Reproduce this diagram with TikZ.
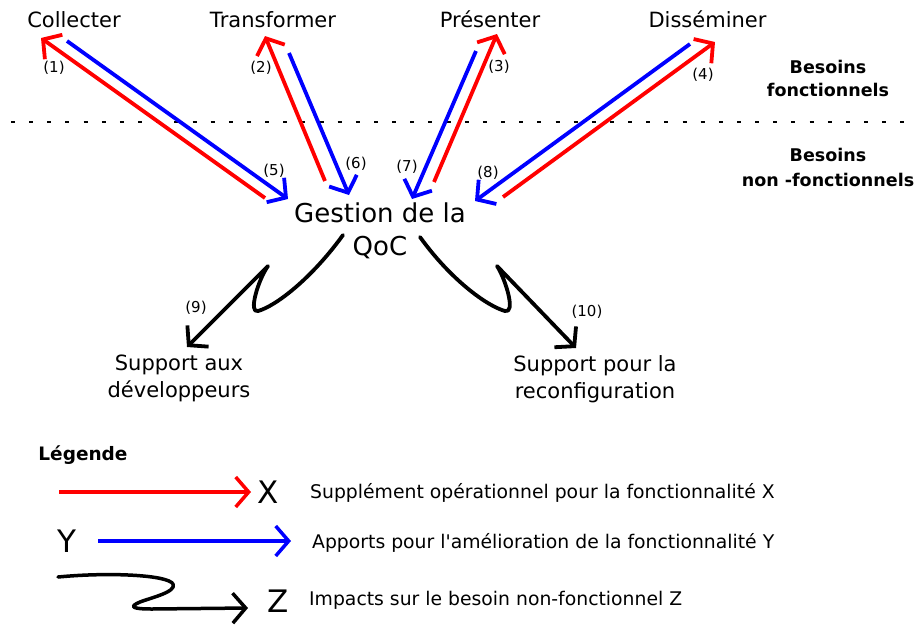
\documentclass[tikz,border=0pt]{standalone}
\usepackage{fontspec}
\setmainfont{DejaVu Sans}[Ligatures=TeXOff]
\usetikzlibrary{arrows.meta}
\begin{document}
\begin{tikzpicture}[x=1pt,y=-1pt,
  lbl/.style={font=\fontsize{21}{27}\selectfont, align=center, anchor=base, inner sep=0pt},
  num/.style={font=\fontsize{15}{18}\selectfont, inner sep=0pt},
  hdr/.style={font=\bfseries\fontsize{17.5}{23.4}\selectfont, align=center, anchor=base, inner sep=0pt},
  tipbarb/.style={-{Straight Barb[length=13pt,width=30pt]}},
  redarr/.style={draw=red, line width=3.8pt, tipbarb},
  bluearr/.style={draw=blue, line width=3.8pt, tipbarb},
  impact/.style={draw=black, line width=3.8pt, line cap=round, line join=round, tipbarb},
  legtxt/.style={font=\fontsize{18.8}{22}\selectfont, anchor=base west, inner sep=0pt},
  bigletter/.style={font=\fontsize{31}{36}\selectfont, inner sep=0pt}
]
\useasboundingbox (0,0) rectangle (922,625);

% functional needs
\node[lbl] (collecter) at (74,27.5) {Collecter};
\node[lbl] (transformer) at (273,27.5) {Transformer};
\node[lbl] (presenter) at (490,27.5) {Présenter};
\node[lbl] (disseminer) at (707.5,27.5) {Disséminer};

% multi-line nodes: base anchor = baseline of last line
\node[hdr] (bf) at (828,96.7) {Besoins\\fonctionnels};
\node[hdr, font=\bfseries\fontsize{17.5}{24.3}\selectfont] (bnf) at (828,186) {Besoins\\non -fonctionnels};

\draw[line width=2.5pt, dash pattern=on 4pt off 14.15pt] (11,122) -- (908,122);

\node[lbl, font=\fontsize{26}{33}\selectfont] (qoc) at (380,255) {Gestion de la\\QoC};
\node[lbl] (dev) at (179,397) {Support aux\\développeurs};
\node[lbl] (reconf) at (595,398) {Support pour la\\reconfiguration};

% endpoints
\coordinate (r1s) at (265,198); \coordinate (r1e) at (41,38);
\coordinate (b5s) at (67,41);   \coordinate (b5e) at (288,199);
\coordinate (r2s) at (325,181); \coordinate (r2e) at (265,36);
\coordinate (b6s) at (289,53);  \coordinate (b6e) at (349,195);
\coordinate (b7s) at (476,51);  \coordinate (b7e) at (412,199);
\coordinate (r3s) at (434,182); \coordinate (r3e) at (497,34);
\coordinate (b8s) at (690,44);  \coordinate (b8e) at (475,201);
\coordinate (r4s) at (503,197); \coordinate (r4e) at (715,42);

\draw[redarr] (r1s) -- (r1e);
\draw[bluearr] (b5s) -- (b5e);
\draw[redarr] (r2s) -- (r2e);
\draw[bluearr] (b6s) -- (b6e);
\draw[bluearr] (b7s) -- (b7e);
\draw[redarr] (r3s) -- (r3e);
\draw[bluearr] (b8s) -- (b8e);
\draw[redarr] (r4s) -- (r4e);

\node[num] (n1) at (54,68) {(1)};
\node[num] (n2) at (261,68) {(2)};
\node[num] (n3) at (499,67) {(3)};
\node[num] (n4) at (703,75) {(4)};
\node[num] (n5) at (274,171) {(5)};
\node[num] (n6) at (356,164) {(6)};
\node[num] (n7) at (407,167) {(7)};
\node[num] (n8) at (488,173) {(8)};
\node[num] (n9) at (196,308) {(9)};
\node[num] (n10) at (587,312) {(10)};

% impacts
\coordinate (i9s) at (343,235); \coordinate (i9e) at (187,347);
\coordinate (i10s) at (420,237); \coordinate (i10e) at (576,348);
\draw[impact] (i9s) .. controls (312,278) and (276,306) .. (258,311)
  .. controls (248,314) and (258,280) .. (268,266) -- (i9e);
\draw[impact] (i10s) .. controls (451,280) and (487,306) .. (505,311)
  .. controls (516,314) and (506,280) .. (497,266) -- (i10e);

% legend
\node[hdr, font=\bfseries\fontsize{18.5}{22}\selectfont] (leg) at (83,460) {Légende};

\node[bigletter] (X) at (268,492) {X};
\node[bigletter] (Y) at (67,541) {Y};
\node[bigletter] (Z) at (278,601) {Z};

\coordinate (lrs) at (59,492); \coordinate (lre) at (251,492);
\coordinate (lbs) at (98,541); \coordinate (lbe) at (291,541);
\coordinate (lis) at (58,577); \coordinate (lie) at (248,608);
\draw[redarr, line width=3.5pt] (lrs) -- (lre);
\draw[bluearr, line width=3.5pt] (lbs) -- (lbe);
\draw[impact, line width=3.5pt] (lis) .. controls (110,572) and (168,575) .. (173,584)
  .. controls (177,592) and (150,598) .. (140,602)
  .. controls (128,607) and (133,609) .. (152,609) -- (lie);

\node[legtxt] (t1) at (310,498) {Supplément opérationnel pour la fonctionnalité X};
\node[legtxt] (t2) at (312,548) {Apports pour l'amélioration de la fonctionnalité Y};
\node[legtxt] (t3) at (309,605) {Impacts sur le besoin non-fonctionnel Z};
\end{tikzpicture}
\end{document}
